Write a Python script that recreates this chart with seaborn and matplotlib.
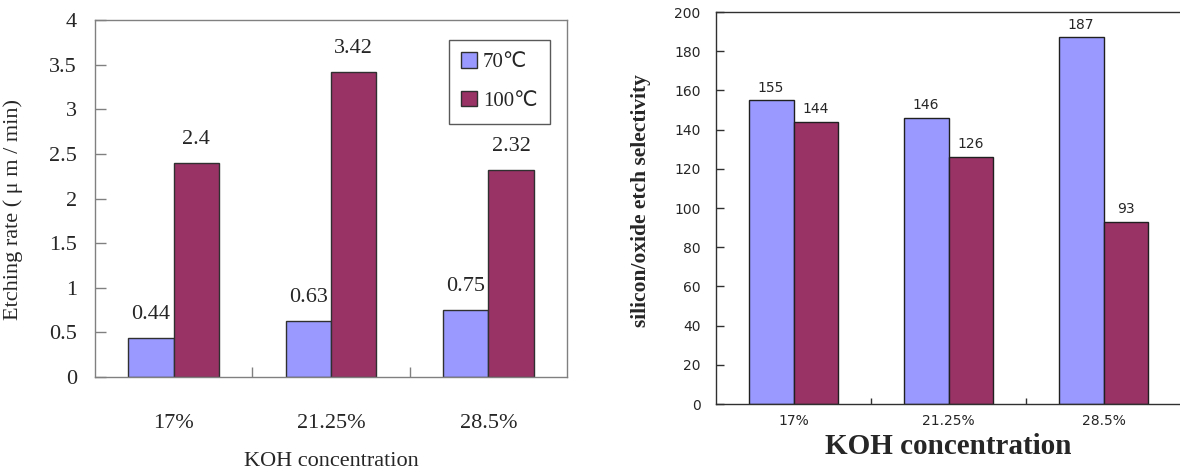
import matplotlib
matplotlib.use("Agg")
import matplotlib.pyplot as plt
from matplotlib.ticker import FixedLocator
import seaborn as sns
import pandas as pd

# KOH concentrations and the two bath temperatures
concentrations = ["17%", "21.25%", "28.5%"]
temperatures = ["70\u2103", "100\u2103"]

# Etching rate (um/min)
rate_70 = [0.44, 0.63, 0.75]
rate_100 = [2.4, 3.42, 2.32]

# Silicon/oxide etch selectivity
sel_70 = [155, 146, 187]
sel_100 = [144, 126, 93]

rate_labels_70 = ["0.44", "0.63", "0.75"]
rate_labels_100 = ["2.4", "3.42", "2.32"]

palette = {temperatures[0]: "#9999FF", temperatures[1]: "#993366"}


def long_table(v70, v100):
    return pd.DataFrame({
        "conc": concentrations * 2,
        "temp": [temperatures[0]] * 3 + [temperatures[1]] * 3,
        "value": list(v70) + list(v100),
    })


sns.set_theme(style="white")
plt.rcParams["font.family"] = ["Liberation Serif", "DejaVu Sans"]

fig = plt.figure(figsize=(11.8, 4.72), dpi=100)
ax1 = fig.add_axes([95 / 1180, 1 - 377 / 472, 472 / 1180, 357 / 472])
ax2 = fig.add_axes([716 / 1180, 1 - 404 / 472, 465 / 1180, 392 / 472])

# ---- left: etching rate ----
sns.barplot(data=long_table(rate_70, rate_100), x="conc", y="value", hue="temp",
            hue_order=temperatures, order=concentrations, palette=palette,
            width=0.575, gap=0, saturation=1, edgecolor="#303030", linewidth=1,
            errorbar=None, ax=ax1, legend=False)
ax1.set_ylim(0, 4)
ax1.set_xlim(-0.5, 2.5)
ax1.set_yticks([0, 0.5, 1, 1.5, 2, 2.5, 3, 3.5, 4])
ax1.set_yticklabels(["0", "0.5", "1", "1.5", "2", "2.5", "3", "3.5", "4"])
ax1.tick_params(axis="y", direction="in", length=8, width=1, color="#808080",
                labelsize=16, pad=13, left=True)
ax1.tick_params(axis="x", which="major", length=0, labelsize=16, pad=27)
ax1.xaxis.set_minor_locator(FixedLocator([0.5, 1.5]))
ax1.tick_params(axis="x", which="minor", direction="in", length=7, width=1,
                color="#808080", bottom=True)
for sp in ax1.spines.values():
    sp.set_color("#808080")
    sp.set_linewidth(1)
ax1.set_xlabel("KOH concentration", fontsize=16, labelpad=13)
ax1.set_ylabel("Etching rate ( \u03bc m / min)", fontsize=16)
ax1.yaxis.set_label_coords(-0.152, 0.47)
ax1.bar_label(ax1.containers[0], labels=rate_labels_70, fontsize=16, padding=10)
ax1.bar_label(ax1.containers[1], labels=rate_labels_100, fontsize=16, padding=10)
leg = ax1.legend(handles=[ax1.containers[0].patches[0], ax1.containers[1].patches[0]],
                 labels=temperatures, loc="upper right",
                 bbox_to_anchor=(0.964, 0.944), borderaxespad=0, fontsize=15,
                 frameon=True, fancybox=False, edgecolor="#303030",
                 handlelength=0.75, handleheight=0.75, handletextpad=0.3,
                 labelspacing=0.9, borderpad=0.6)
leg.get_frame().set_linewidth(1)

# ---- right: selectivity ----
sns.barplot(data=long_table(sel_70, sel_100), x="conc", y="value", hue="temp",
            hue_order=temperatures, order=concentrations, palette=palette,
            width=0.58, gap=0, saturation=1, edgecolor="#202020", linewidth=1,
            errorbar=None, ax=ax2, legend=False)
ax2.set_ylim(0, 200)
ax2.set_xlim(-0.5, 2.5)
ax2.set_yticks(list(range(0, 201, 20)))
ax2.tick_params(axis="y", direction="in", length=6, width=1, color="#303030",
                labelsize=10, pad=11, left=True)
ax2.tick_params(axis="x", which="major", length=0, labelsize=10, pad=7)
ax2.xaxis.set_minor_locator(FixedLocator([0.5, 1.5]))
ax2.tick_params(axis="x", which="minor", direction="in", length=4, width=1,
                color="#303030", bottom=True)
for lab in ax2.get_xticklabels() + ax2.get_yticklabels():
    lab.set_family("DejaVu Sans")
for sp in ax2.spines.values():
    sp.set_color("#303030")
    sp.set_linewidth(1)
ax2.spines["right"].set_visible(False)
ax2.set_xlabel("KOH concentration", fontsize=21, fontweight="bold", labelpad=4)
ax2.set_ylabel("silicon/oxide etch selectivity", fontsize=15.5, fontweight="bold")
ax2.yaxis.set_label_coords(-0.14, 0.52)
for cont in ax2.containers:
    ax2.bar_label(cont, fmt="%d", fontsize=10, padding=4, family="DejaVu Sans")

fig.savefig("out.png", dpi=100)
